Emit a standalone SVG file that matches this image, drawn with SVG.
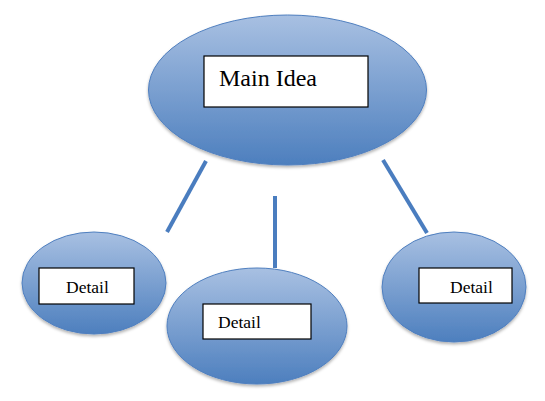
<svg xmlns="http://www.w3.org/2000/svg" width="545" height="401" viewBox="0 0 545 401">
<defs>
<linearGradient id="g" x1="0" y1="0" x2="0" y2="1">
<stop offset="0" stop-color="#a8c0e2"/>
<stop offset="1" stop-color="#4d7fbe"/>
</linearGradient>
<filter id="sh" x="-10%" y="-10%" width="120%" height="130%">
<feGaussianBlur in="SourceAlpha" stdDeviation="1.5"/>
<feOffset dy="2" result="b"/>
<feFlood flood-color="#000" flood-opacity="0.3"/>
<feComposite in2="b" operator="in"/>
<feMerge><feMergeNode/><feMergeNode in="SourceGraphic"/></feMerge>
</filter>
</defs>
<style>
.el{fill:url(#g);stroke:#4f7fbf;stroke-width:1;filter:url(#sh)}
.bx{fill:#fff;stroke:#000;stroke-width:1.2}
.t{font-family:"Liberation Serif",serif;fill:#000}
.ln{stroke:#4a7dbf;stroke-width:4;fill:none}
</style>
<rect width="545" height="401" fill="#fff"/>
<g id="connectors">
<line class="ln" x1="206" y1="161" x2="167" y2="232"/>
<line class="ln" x1="275" y1="196" x2="275" y2="268"/>
<line class="ln" x1="383" y1="160" x2="427" y2="233"/>
</g>
<g id="main">
<ellipse class="el" cx="287.5" cy="90" rx="139" ry="75"/>
<rect class="bx" x="204" y="56" width="164" height="51"/>
<text class="t" x="219" y="86" font-size="24">Main Idea</text>
</g>
<g id="detail-left">
<ellipse class="el" cx="94" cy="283" rx="72" ry="51"/>
<rect class="bx" x="39" y="268" width="95" height="36"/>
<text class="t" x="66" y="293" font-size="17.5">Detail</text>
</g>
<g id="detail-middle">
<ellipse class="el" cx="257" cy="326" rx="90" ry="58"/>
<rect class="bx" x="203" y="304" width="108" height="35"/>
<text class="t" x="218" y="328" font-size="17.5">Detail</text>
</g>
<g id="detail-right">
<ellipse class="el" cx="454" cy="287" rx="72" ry="55"/>
<rect class="bx" x="419" y="268" width="93" height="35"/>
<text class="t" x="450" y="293" font-size="17.5">Detail</text>
</g>
</svg>
